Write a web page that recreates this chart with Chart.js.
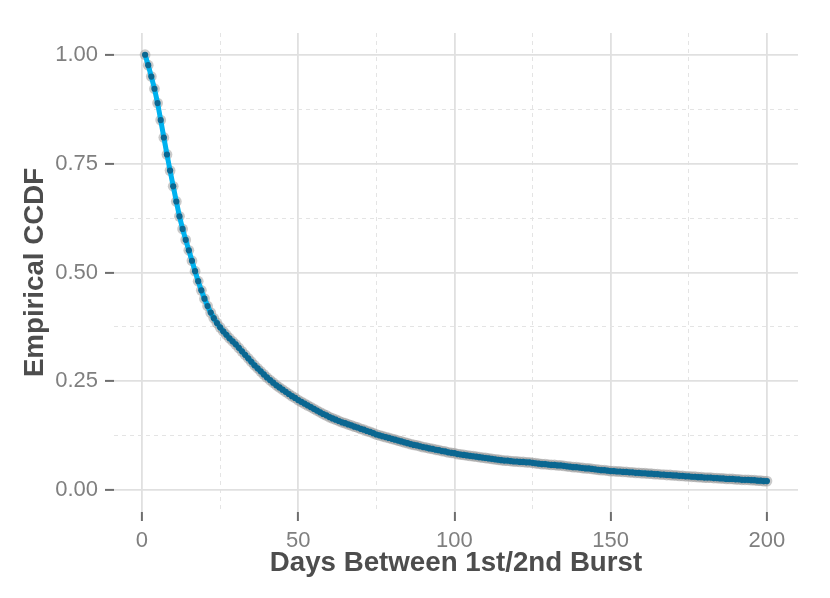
<!DOCTYPE html>
<html>
<head>
<meta charset="utf-8">
<script src="https://cdn.jsdelivr.net/npm/chart.js@4/dist/chart.umd.min.js"></script>
<style>
  html, body { margin: 0; padding: 0; background: #ffffff; }
  #wrap { width: 830px; height: 598px; }
</style>
</head>
<body>
<div id="wrap"><canvas id="c" width="830" height="598"></canvas></div>
<script>
// ---- data ----
const days = [
  1,2,3,4,5,6,7,8,9,10,11,12,13,14,15,16,17,18,19,20,
  21,22,23,24,25,26,27,28,29,30,31,32,33,34,35,36,37,38,39,40,
  41,42,43,44,45,46,47,48,49,50,51,52,53,54,55,56,57,58,59,60,
  61,62,63,64,65,66,67,68,69,70,71,72,73,74,75,76,77,78,79,80,
  81,82,83,84,85,86,87,88,89,90,91,92,93,94,95,96,97,98,99,100,
  101,102,103,104,105,106,107,108,109,110,111,112,113,114,115,116,117,118,119,120,
  121,122,123,124,125,126,127,128,129,130,131,132,133,134,135,136,137,138,139,140,
  141,142,143,144,145,146,147,148,149,150,151,152,153,154,155,156,157,158,159,160,
  161,162,163,164,165,166,167,168,169,170,171,172,173,174,175,176,177,178,179,180,
  181,182,183,184,185,186,187,188,189,190,191,192,193,194,195,196,197,198,199,200
];
const ccdf = [
  1.000,0.976,0.950,0.922,0.889,0.850,0.810,0.771,0.734,0.698,
  0.663,0.629,0.600,0.575,0.551,0.527,0.503,0.480,0.459,0.440,
  0.423,0.408,0.395,0.384,0.374,0.365,0.357,0.349,0.342,0.335,
  0.327,0.319,0.311,0.303,0.295,0.287,0.280,0.273,0.266,0.259,
  0.253,0.247,0.241,0.236,0.231,0.226,0.221,0.216,0.212,0.207,
  0.203,0.199,0.195,0.191,0.187,0.183,0.179,0.175,0.172,0.168,
  0.165,0.162,0.159,0.156,0.154,0.151,0.149,0.146,0.144,0.141,
  0.139,0.136,0.134,0.131,0.128,0.126,0.124,0.122,0.120,0.118,
  0.116,0.114,0.112,0.110,0.108,0.106,0.104,0.103,0.101,0.099,
  0.098,0.096,0.095,0.093,0.092,0.090,0.089,0.087,0.086,0.085,
  0.083,0.082,0.081,0.080,0.079,0.078,0.077,0.076,0.075,0.074,
  0.073,0.072,0.071,0.070,0.069,0.068,0.068,0.067,0.066,0.066,
  0.065,0.065,0.064,0.064,0.063,0.062,0.061,0.060,0.060,0.059,
  0.058,0.058,0.057,0.057,0.056,0.055,0.054,0.053,0.053,0.052,
  0.051,0.050,0.050,0.049,0.048,0.047,0.046,0.046,0.045,0.044,
  0.044,0.043,0.043,0.042,0.042,0.041,0.041,0.040,0.040,0.039,
  0.039,0.038,0.038,0.037,0.037,0.036,0.036,0.035,0.035,0.034,
  0.034,0.033,0.033,0.032,0.032,0.031,0.031,0.030,0.030,0.029,
  0.029,0.029,0.028,0.028,0.027,0.027,0.026,0.026,0.026,0.025,
  0.025,0.024,0.024,0.024,0.023,0.023,0.022,0.022,0.021,0.021
];
const xTicks = [0, 50, 100, 150, 200];
const xTickLabels = ['0', '50', '100', '150', '200'];
const xMinorTicks = [25, 75, 125, 175];
const yTicks = [0, 0.25, 0.5, 0.75, 1];
const yTickLabels = ['0.00', '0.25', '0.50', '0.75', '1.00'];
const yMinorTicks = [0.125, 0.375, 0.625, 0.875];
const xTitle = 'Days Between 1st/2nd Burst';
const yTitle = 'Empirical CCDF';

// ---- chart ----
const points = days.map((d, i) => ({ x: d, y: ccdf[i] }));
const X_MIN = -8.95, X_MAX = 209.95, Y_MIN = -0.05, Y_MAX = 1.05;
const tickFont = { family: "'Liberation Sans', Arial, sans-serif", size: 22 };
const titleFont = { family: "'Liberation Sans', Arial, sans-serif", size: 27.7, weight: 'bold' };

new Chart(document.getElementById('c'), {
  type: 'scatter',
  data: {
    datasets: [
      { data: points, showLine: false, pointRadius: 5.4, pointBorderWidth: 0,
        pointBackgroundColor: 'rgba(150,150,150,0.5)', order: 3 },
      { data: points, showLine: true, borderColor: '#00b2ef', borderWidth: 5,
        pointRadius: 0, tension: 0, order: 2 },
      { data: points, showLine: false, pointRadius: 3.1, pointBorderWidth: 0,
        pointBackgroundColor: '#0b6791', order: 1 }
    ]
  },
  options: {
    responsive: false,
    animation: false,
    events: [],
    layout: { padding: { left: 0, top: 33, right: 32, bottom: 0 } },
    plugins: { legend: { display: false }, tooltip: { enabled: false } },
    scales: {
      x: {
        type: 'linear', position: 'bottom', min: X_MIN, max: X_MAX,
        afterBuildTicks: s => { s.ticks = xTicks.map(v => ({ value: v })); },
        afterFit: s => { s.height = 86; },
        ticks: { font: tickFont, color: '#7f7f7f', padding: 7, maxRotation: 0,
                 callback: (v) => xTickLabels[xTicks.indexOf(v)] },
        grid: { color: '#e0e0e0', lineWidth: 1.8, tickColor: '#6e6e6e', tickWidth: 2, tickLength: 9 },
        border: { display: false },
        title: { display: true, text: xTitle, font: titleFont, color: '#4d4d4d', padding: { top: 0, bottom: 18.4 } }
      },
      x2: {
        type: 'linear', position: 'bottom', min: X_MIN, max: X_MAX,
        afterBuildTicks: s => { s.ticks = xMinorTicks.map(v => ({ value: v })); },
        afterFit: s => { s.height = 0; },
        ticks: { display: false },
        grid: { color: '#e4e4e4', lineWidth: 1, drawTicks: false },
        border: { display: false, dash: [4, 4] }
      },
      y: {
        type: 'linear', position: 'left', min: Y_MIN, max: Y_MAX,
        afterBuildTicks: s => { s.ticks = yTicks.map(v => ({ value: v })); },
        afterFit: s => { s.width = 114; },
        ticks: { font: tickFont, color: '#7f7f7f', padding: 7,
                 callback: (v) => yTickLabels[yTicks.indexOf(v)] },
        grid: { color: '#e0e0e0', lineWidth: 1.8, tickColor: '#6e6e6e', tickWidth: 2, tickLength: 9 },
        border: { display: false },
        title: { display: true, text: yTitle, font: titleFont, color: '#4d4d4d', padding: { top: 19, bottom: 0 } }
      },
      y2: {
        type: 'linear', position: 'left', min: Y_MIN, max: Y_MAX,
        afterBuildTicks: s => { s.ticks = yMinorTicks.map(v => ({ value: v })); },
        afterFit: s => { s.width = 0; },
        ticks: { display: false },
        grid: { color: '#e4e4e4', lineWidth: 1, drawTicks: false },
        border: { display: false, dash: [4, 4] }
      }
    }
  }
});
</script>
</body>
</html>
